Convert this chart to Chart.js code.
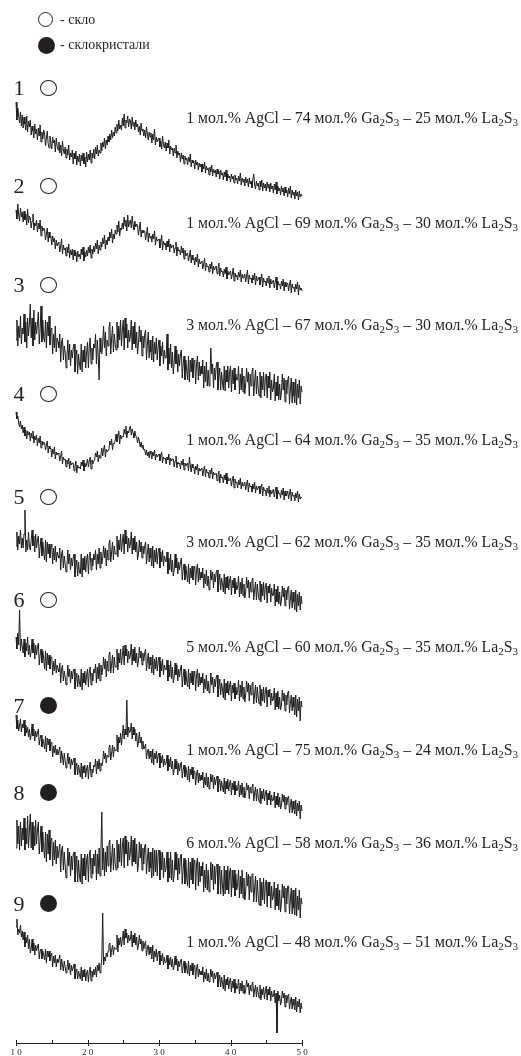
<!DOCTYPE html>
<html>
<head>
<meta charset="utf-8">
<script src="https://cdn.jsdelivr.net/npm/chart.js@4"></script>
<style>
  html, body { margin: 0; padding: 0; background: #fff; }
  #wrap { position: relative; width: 521px; height: 1056px; overflow: hidden; font-family: "Liberation Serif", "Times New Roman", serif; color: #231f20; }
  #c { position: absolute; left: 0; top: 0; }
  .num { position: absolute; left: 13px; width: 12px; font-size: 22px; line-height: 22px; text-align: center; }
  .circ { position: absolute; width: 15px; height: 15px; border-radius: 50%; box-sizing: border-box; }
  .open { border: 1.3px solid #231f20; background: #fff; }
  .fill { background: #231f20; }
  .comp { position: absolute; right: 3px; font-size: 15.8px; line-height: 16px; white-space: nowrap; }
  .comp .s { font-size: 11px; vertical-align: -3px; line-height: 0; }
  .leg { position: absolute; left: 60px; font-size: 14px; line-height: 14px; white-space: nowrap; }
</style>
</head>
<body>
<div id="wrap">
  <canvas id="c" width="521" height="1056"></canvas>
</div>
<script>
// ---------------- DATA ----------------
// 2θ scan grid (degrees)
const twoThetaStart = 10, twoThetaStep = 0.125, twoThetaCount = 321;
const twoTheta = Array.from({length: twoThetaCount}, (_, i) => twoThetaStart + i * twoThetaStep);
const xTicks = [10, 20, 30, 40, 50];

const sampleNumbers = ["1","2","3","4","5","6","7","8","9"];
const sampleState = ["glass","glass","glass","glass","glass","glass","glass-ceramic","glass-ceramic","glass-ceramic"];
const agcl = [1, 1, 3, 1, 3, 5, 1, 6, 1];
const ga2s3 = [74, 69, 67, 64, 62, 60, 75, 58, 48];
const la2s3 = [25, 30, 30, 35, 35, 35, 24, 36, 51];
const legendLabels = ["- скло", "- склокристали"];

// intensities (arbitrary units), 2θ = 10 … 50 step 0.125
const trace1 = [
 98,80,92,84,77,88,74,85, 72,83,76,70,84,68,79,73, 80,65,74,69,62,76,66,71, 60,72,64,75,58,68,61,70, 66,54,62,69,56,52,64,58,
 51,63,57,60,48,62,54,50, 58,47,55,44,59,50,46,53, 42,51,45,55,40,47,43,50, 36,47,41,49,35,44,38,46, 34,45,39,47,36,43,33,48,
 38,46,40,50,37,47,42,51, 41,53,46,55,44,50,47,57, 49,58,53,62,51,60,55,64, 58,66,60,70,62,68,64,73, 67,76,69,80,71,75,70,82,
 74,86,72,80,77,84,73,81, 79,71,83,74,78,70,80,73, 76,68,74,65,77,69,71,64, 70,62,73,66,60,68,63,67, 57,66,60,71,55,63,58,61,
 62,53,59,51,64,55,52,58, 49,57,52,60,46,54,50,52, 44,52,47,55,42,49,45,47, 38,47,41,45,36,44,40,42, 35,43,38,46,33,40,37,39,
 31,40,35,38,30,37,33,36, 28,36,31,38,27,34,30,32, 25,33,28,35,24,31,27,30, 23,31,26,29,21,30,25,27, 20,28,23,30,19,26,22,24,
 18,26,21,24,17,25,20,22, 16,24,19,27,15,22,18,21, 14,23,17,21,13,22,16,19, 12,21,26,15,11,19,14,17, 10,19,13,20,9,17,12,16,
 9,18,12,16,8,17,11,14, 7,16,10,18,6,14,9,12, 5,14,8,12,4,13,7,10, 3,12,6,14,2,10,5,8, 1,10,4,8,0,9,3,6, 4];
const trace2 = [
 90,81,96,85,79,92,83,88, 78,89,80,86,75,91,77,84, 82,72,79,86,70,77,74,80, 68,77,71,80,64,74,69,72, 70,60,66,72,58,68,62,64,
 55,64,58,62,51,60,54,57, 58,48,54,61,46,55,50,52, 44,53,47,56,42,50,45,51, 40,50,44,48,38,49,43,46, 41,51,45,53,39,48,43,50,
 44,53,47,55,42,51,46,54, 48,57,51,60,46,55,50,58, 53,62,56,65,51,60,55,63, 59,68,62,71,57,66,61,70, 66,75,68,79,64,72,70,77,
 71,83,74,80,69,85,73,78, 80,72,84,75,70,79,73,76, 74,65,71,78,63,70,67,69, 69,60,66,73,58,67,62,64, 58,66,61,69,55,63,59,60,
 61,52,58,65,50,59,55,57, 50,59,53,61,48,56,52,54, 55,47,52,58,44,53,49,50, 45,54,47,52,41,50,44,46, 47,39,44,50,37,45,40,42,
 35,43,38,46,33,41,36,38, 39,31,36,42,29,37,33,34, 28,36,31,38,26,34,30,32, 34,26,31,37,24,32,28,29, 23,31,26,33,21,29,25,27,
 29,21,26,32,19,27,23,25, 20,28,23,30,18,26,22,24, 26,18,24,30,16,25,21,22, 17,25,20,27,15,24,19,21, 23,15,20,26,13,22,18,19,
 14,22,17,24,12,21,16,18, 20,12,18,23,10,19,15,16, 11,19,14,21,9,18,13,15, 17,9,15,20,7,16,12,13, 8,16,11,18,5,15,10,12, 9];
const trace3 = [
 60,80,54,74,62,84,56,72, 66,86,58,78,52,82,64,76, 96,62,82,54,90,60,78,66, 76,88,56,70,94,58,80,62, 58,80,52,78,64,84,55,70,
 72,46,66,52,74,48,62,58, 52,66,38,58,62,40,54,48, 32,44,60,40,56,34,50,42, 52,56,28,42,50,26,46,36, 30,56,28,50,38,54,32,48,
 58,32,54,62,36,52,40,56, 52,66,36,60,44,20,62,48, 46,56,74,52,68,44,60,54, 72,78,46,62,74,48,66,56, 50,78,52,74,60,80,54,70,
 80,50,82,62,76,52,70,58, 64,80,50,74,56,78,52,68, 46,56,74,58,70,44,64,52, 66,70,40,56,68,42,60,48, 40,64,38,58,46,62,40,54,
 60,34,54,44,58,36,50,42, 42,66,30,52,36,56,32,48, 26,38,54,36,50,28,46,34, 46,50,22,36,44,20,40,30, 20,44,18,40,28,42,22,36,
 40,16,36,44,20,38,24,34, 26,40,12,34,18,38,14,30, 14,22,52,26,36,12,32,20, 34,38,10,24,32,10,28,18, 10,34,9,30,18,34,12,28,
 34,8,30,16,32,10,26,20, 20,34,6,26,10,32,8,24, 6,16,32,18,28,4,26,14, 28,32,4,18,30,6,24,12, 4,28,2,24,10,28,4,22,
 26,2,24,12,28,0,20,8, 12,26,-1,18,4,24,0,16, 0,8,26,10,22,-2,20,6, 20,24,-4,10,22,-3,18,4, -3,21,-5,16,2,20,-4,14, 8];
const trace4 = [
 93,86,89,82,78,84,76,80, 72,78,69,75,66,74,70,73, 64,72,67,74,62,69,65,70, 59,67,62,69,57,64,60,63, 62,55,60,64,52,59,56,57,
 48,56,51,58,46,53,50,52, 51,44,49,54,41,48,45,46, 38,45,41,47,36,44,40,42, 42,34,39,44,32,40,37,38, 36,43,39,45,34,42,38,41,
 46,38,44,48,36,45,41,44, 45,52,48,54,43,50,47,51, 57,49,55,60,48,56,53,55, 56,64,60,66,55,62,61,65, 71,63,68,74,61,70,66,69,
 68,76,71,79,67,74,72,77, 79,70,76,72,67,74,69,68, 62,68,64,58,63,57,60,55, 56,50,55,49,53,47,54,51, 46,53,49,55,45,51,48,50,
 51,44,49,53,42,48,46,47, 41,48,45,51,40,47,44,46, 46,38,44,49,37,43,41,42, 36,44,40,46,35,42,39,41, 42,34,48,40,33,41,37,38,
 31,39,35,41,30,37,34,36, 37,29,35,39,28,36,32,33, 27,35,31,37,26,33,30,31, 32,24,30,34,22,31,27,28, 22,30,25,32,21,28,24,25,
 27,19,25,29,17,26,22,23, 17,25,20,27,16,23,19,21, 23,15,21,25,13,22,18,19, 13,21,16,23,12,19,15,17, 19,11,17,21,9,18,14,15,
 9,17,12,19,8,15,11,13, 16,8,14,18,6,15,11,12, 7,15,10,17,5,14,9,11, 14,6,12,16,4,13,9,10, 4,12,7,14,3,11,6,8, 7];
const trace5 = [
 64,78,60,74,66,80,62,72, 62,76,100,58,70,60,78,64, 60,70,80,64,74,58,76,62, 70,74,52,63,72,54,68,58, 50,70,48,68,56,66,52,62,
 66,46,62,50,64,48,58,54, 52,62,40,56,60,42,54,46, 38,44,60,46,56,40,52,44, 52,56,33,43,50,34,48,38, 36,56,33,52,40,54,38,50,
 56,36,54,58,40,52,44,56, 50,60,40,56,46,62,42,58, 46,52,64,52,62,44,60,50, 66,70,48,58,68,50,64,56, 56,74,53,70,60,76,58,68,
 76,56,80,66,74,58,72,62, 66,78,56,72,60,74,58,68, 50,56,70,58,68,52,64,56, 64,68,46,57,66,48,62,52, 44,64,42,60,48,62,46,58,
 62,42,58,48,60,44,54,50, 48,58,36,52,40,56,38,50, 34,40,56,42,52,36,48,40, 48,52,30,40,46,30,44,36, 28,46,26,42,32,44,30,40,
 44,25,40,46,28,42,30,38, 32,42,22,36,26,40,24,34, 20,26,40,30,38,22,36,28, 38,40,18,28,36,20,32,26, 18,36,16,33,22,34,20,30,
 34,15,30,22,32,16,28,20, 23,34,13,28,16,32,14,26, 12,18,33,22,30,12,28,18, 30,32,10,20,28,10,26,16, 10,29,8,26,14,28,10,24,
 27,7,24,17,26,8,22,14, 15,26,4,21,8,24,6,18, 4,10,24,13,22,4,20,10, 22,24,1,11,20,2,18,8, 0,20,-2,16,4,18,0,14, 6];
const trace6 = [
 78,66,82,70,105,64,76,68, 62,76,58,72,64,78,60,70, 58,64,76,62,72,56,70,60, 68,72,50,60,66,52,64,56, 46,64,44,62,50,60,46,58,
 58,40,54,44,56,42,50,46, 43,52,32,46,50,34,44,38, 30,36,50,38,46,32,44,36, 44,46,26,35,42,28,40,32, 28,46,25,42,32,44,30,40,
 46,28,44,48,30,42,34,46, 42,51,32,48,36,52,34,50, 40,46,58,46,56,38,54,44, 60,63,42,51,60,42,58,48, 48,66,45,62,52,66,50,60,
 69,50,70,59,66,52,64,56, 60,71,50,66,54,68,52,62, 48,54,68,57,64,50,62,54, 62,66,44,54,62,46,58,50, 42,60,40,56,46,58,44,54,
 58,38,54,44,56,40,50,46, 45,55,34,50,38,54,36,48, 32,38,52,40,50,34,46,38, 46,50,28,38,46,30,44,34, 28,46,26,42,32,44,30,40,
 44,24,40,46,28,42,30,38, 32,42,22,36,26,40,24,34, 22,26,42,30,38,22,36,28, 38,40,18,28,36,20,32,26, 17,36,15,32,22,34,20,30,
 34,14,30,22,32,16,28,20, 24,35,14,30,18,34,16,28, 13,20,34,23,32,14,30,20, 31,33,11,21,30,12,28,18, 11,30,9,26,14,28,12,24,
 28,8,25,18,26,10,22,14, 16,27,5,22,8,24,6,18, 5,10,25,14,22,4,20,10, 22,24,2,12,20,4,18,8, 0,20,-2,16,4,18,-6,14, 8];
const trace7 = [
 100,86,95,84,90,96,83,91, 87,95,79,90,82,88,78,86, 75,80,91,79,86,74,84,78, 82,86,70,77,80,68,76,72, 66,79,63,77,70,76,64,72,
 73,58,69,62,70,60,66,60, 60,68,52,64,58,50,62,54, 47,52,62,51,58,46,56,50, 54,57,40,48,52,40,50,44, 38,52,36,49,42,50,38,46,
 50,36,48,53,38,46,42,50, 48,56,41,54,46,56,44,52, 49,53,64,56,62,52,60,58, 67,70,55,62,70,58,68,64, 65,80,63,78,72,82,70,80,
 90,76,86,80,115,78,88,82, 84,92,76,88,80,86,74,82, 68,73,83,72,78,66,74,66, 68,71,56,63,66,56,64,58, 52,66,50,62,56,64,52,60,
 62,47,59,52,60,48,56,50, 52,60,44,56,48,58,46,54, 40,45,56,46,54,40,52,44, 50,53,37,45,50,38,48,42, 35,49,33,46,40,48,36,44,
 44,30,41,45,32,42,34,40, 35,43,27,38,30,42,28,38, 26,30,41,33,40,26,38,30, 36,39,23,31,36,24,34,28, 23,37,21,34,26,36,24,32,
 35,20,32,25,34,20,30,24, 26,34,18,30,20,32,18,28, 17,21,32,25,30,16,28,22, 28,31,14,22,28,14,26,18, 13,27,11,24,16,26,14,22,
 25,10,22,15,24,10,20,14, 15,23,7,19,10,22,8,18, 6,10,21,13,20,6,18,10, 17,19,2,10,16,2,14,6, 1,15,-1,12,4,14,-4,10, 4];
const trace8 = [
 62,90,66,84,60,88,64,82, 70,92,60,82,66,94,62,80, 96,62,88,60,84,64,90,66, 80,88,56,70,84,58,78,62, 52,78,48,76,56,80,50,70,
 72,44,68,50,70,46,64,52, 52,66,38,60,64,40,58,44, 32,40,62,44,58,34,54,40, 56,58,28,40,54,28,50,34, 28,56,26,52,34,56,30,50,
 56,28,54,60,32,52,36,56, 44,60,30,56,36,62,34,58, 98,40,62,34,58,38,64,44, 66,70,38,52,66,40,62,46, 40,70,42,66,48,72,44,64,
 72,42,74,56,70,44,68,50, 58,74,44,70,48,72,46,66, 38,46,68,52,66,40,62,46, 64,66,36,50,62,38,58,42, 32,62,34,60,38,60,34,56,
 60,30,58,40,58,32,52,38, 42,58,28,52,32,58,30,50, 28,36,58,40,56,30,52,36, 54,56,26,40,52,26,50,32, 24,52,22,48,30,52,26,46,
 50,20,46,52,24,48,28,44, 34,48,18,40,22,46,20,40, 18,26,48,30,46,20,44,26, 44,46,16,30,44,16,40,24, 14,44,16,40,20,44,16,38,
 42,13,40,22,40,14,36,20, 26,40,12,34,16,40,12,32, 10,18,38,24,36,10,34,18, 36,36,8,22,34,8,30,14, 5,32,4,28,10,32,6,26,
 30,3,28,14,28,2,24,10, 14,28,0,22,4,26,0,20, -2,8,26,12,24,-2,22,6, 24,24,-4,10,22,-4,20,2, -5,22,-6,14,0,20,-8,12, 6];
const trace9 = [
 88,96,80,86,82,90,78,84, 75,83,68,78,72,80,66,76, 62,66,76,64,72,60,70,64, 68,71,56,64,66,56,64,60, 55,66,52,64,58,64,54,60,
 62,48,59,52,60,48,56,52, 52,60,45,56,50,44,54,48, 42,46,55,45,52,40,50,44, 48,51,36,43,46,36,44,40, 36,48,34,45,38,46,34,42,
 45,33,43,48,34,44,38,46, 40,48,38,50,44,52,42,48, 56,102,50,58,54,62,58,64, 70,72,58,65,70,60,68,66, 66,80,63,77,70,78,68,76,
 84,70,86,77,82,72,80,74, 76,84,68,80,72,82,70,78, 65,70,80,71,76,64,74,66, 71,74,59,67,70,60,68,62, 56,70,53,64,58,66,54,62,
 64,50,60,54,62,50,58,52, 53,60,46,57,50,58,48,56, 45,49,59,50,56,44,54,48, 54,56,42,48,54,42,52,46, 41,54,39,50,44,52,40,48,
 50,36,47,51,38,46,40,44, 40,48,33,43,36,46,34,42, 33,36,46,38,44,32,42,36, 40,43,28,35,40,28,38,32, 26,40,24,36,30,38,26,34,
 37,23,34,27,36,22,32,26, 28,36,21,32,24,34,22,30, 21,25,35,28,32,20,30,24, 31,33,18,25,30,18,28,22, 17,30,15,26,20,28,16,24,
 29,15,26,20,28,14,24,18, 19,25,12,22,-18,24,14,20, 10,14,24,17,22,8,20,12, 19,21,6,13,18,6,16,10, 5,18,3,14,8,16,2,12, 6];
const traces = [trace1, trace2, trace3, trace4, trace5, trace6, trace7, trace8, trace9];

// ---------------- LAYOUT (positions, not data) ----------------
const stackOffsets = [843, 743, 643, 538, 433, 328, 228, 133, 28];   // vertical shift of each pattern
const numeralY = [88, 186, 285, 394, 497, 600, 706, 793, 904];        // centre of "1 ○" markers
const labelY = [118, 223, 325, 440, 542, 647, 750, 843, 942];         // centre of composition labels

// ---------------- HTML TEXT ----------------
const wrap = document.getElementById('wrap');
function add(html, cls, style) {
  const d = document.createElement('div');
  d.className = cls; d.innerHTML = html; Object.assign(d.style, style || {});
  wrap.appendChild(d); return d;
}
// legend
add('', 'circ open', {left: '38px', top: '12px'});
add(legendLabels[0], 'leg', {top: '13px'});
add('', 'circ fill', {left: '38px', top: '37px', width: '17px', height: '17px'});
add(legendLabels[1], 'leg', {top: '38px'});

sampleNumbers.forEach((n, i) => {
  add(n, 'num', {top: (numeralY[i] - 11) + 'px'});
  if (sampleState[i] === 'glass') {
    add('', 'circ open', {left: '40px', top: (numeralY[i] - 8) + 'px', width: '17px', height: '16px'});
  } else {
    add('', 'circ fill', {left: '40px', top: (numeralY[i] - 9) + 'px', width: '17px', height: '17px'});
  }
  const txt = agcl[i] + ' мол.% AgCl – ' + ga2s3[i] + ' мол.% Ga<span class="s">2</span>S<span class="s">3</span> – ' +
              la2s3[i] + ' мол.% La<span class="s">2</span>S<span class="s">3</span>';
  add(txt, 'comp', {top: (labelY[i] - 8) + 'px'});
});

// ---------------- CHART ----------------
const tickMarks = {
  id: 'tickMarks',
  afterDraw(chart) {
    const sx = chart.scales.x, ctx = chart.ctx;
    const y0 = chart.chartArea.bottom;
    ctx.save();
    ctx.strokeStyle = '#231f20';
    ctx.lineWidth = 1;
    for (let v = 10; v <= 50; v += 5) {
      const px = Math.round(sx.getPixelForValue(v)) + 0.5;
      const major = v % 10 === 0;
      ctx.beginPath();
      ctx.moveTo(px, y0 - 3);
      ctx.lineTo(px, major ? y0 + 3 : y0);
      ctx.stroke();
    }
    ctx.restore();
  }
};

const datasets = traces.map((tr, i) => ({
  label: sampleNumbers[i],
  data: tr.map((v, k) => ({x: twoTheta[k], y: v + stackOffsets[i]})),
  borderColor: '#1e1c1c',
  borderWidth: 1,
  pointRadius: 0,
  tension: 0,
  fill: false
}));

new Chart(document.getElementById('c'), {
  type: 'line',
  data: { datasets },
  options: {
    responsive: false,
    animation: false,
    clip: false,
    layout: { padding: { left: 16, right: 219, top: 0, bottom: 0 } },
    plugins: { legend: { display: false }, tooltip: { enabled: false } },
    scales: {
      x: {
        type: 'linear', min: 10, max: 50,
        afterFit(scale) { scale.height = 13; },
        afterBuildTicks(scale) { scale.ticks = xTicks.map(v => ({value: v})); },
        grid: { display: false, drawTicks: false },
        border: { display: true, color: '#231f20', width: 1 },
        ticks: {
          padding: 4,
          maxRotation: 0,
          autoSkip: false,
          color: '#231f20',
          font: { family: 'Liberation Serif', size: 9 },
          callback: v => String(v).split('').join(' ')
        }
      },
      y: { type: 'linear', min: 0, max: 1043, display: false }
    }
  },
  plugins: [tickMarks]
});
</script>
</body>
</html>
